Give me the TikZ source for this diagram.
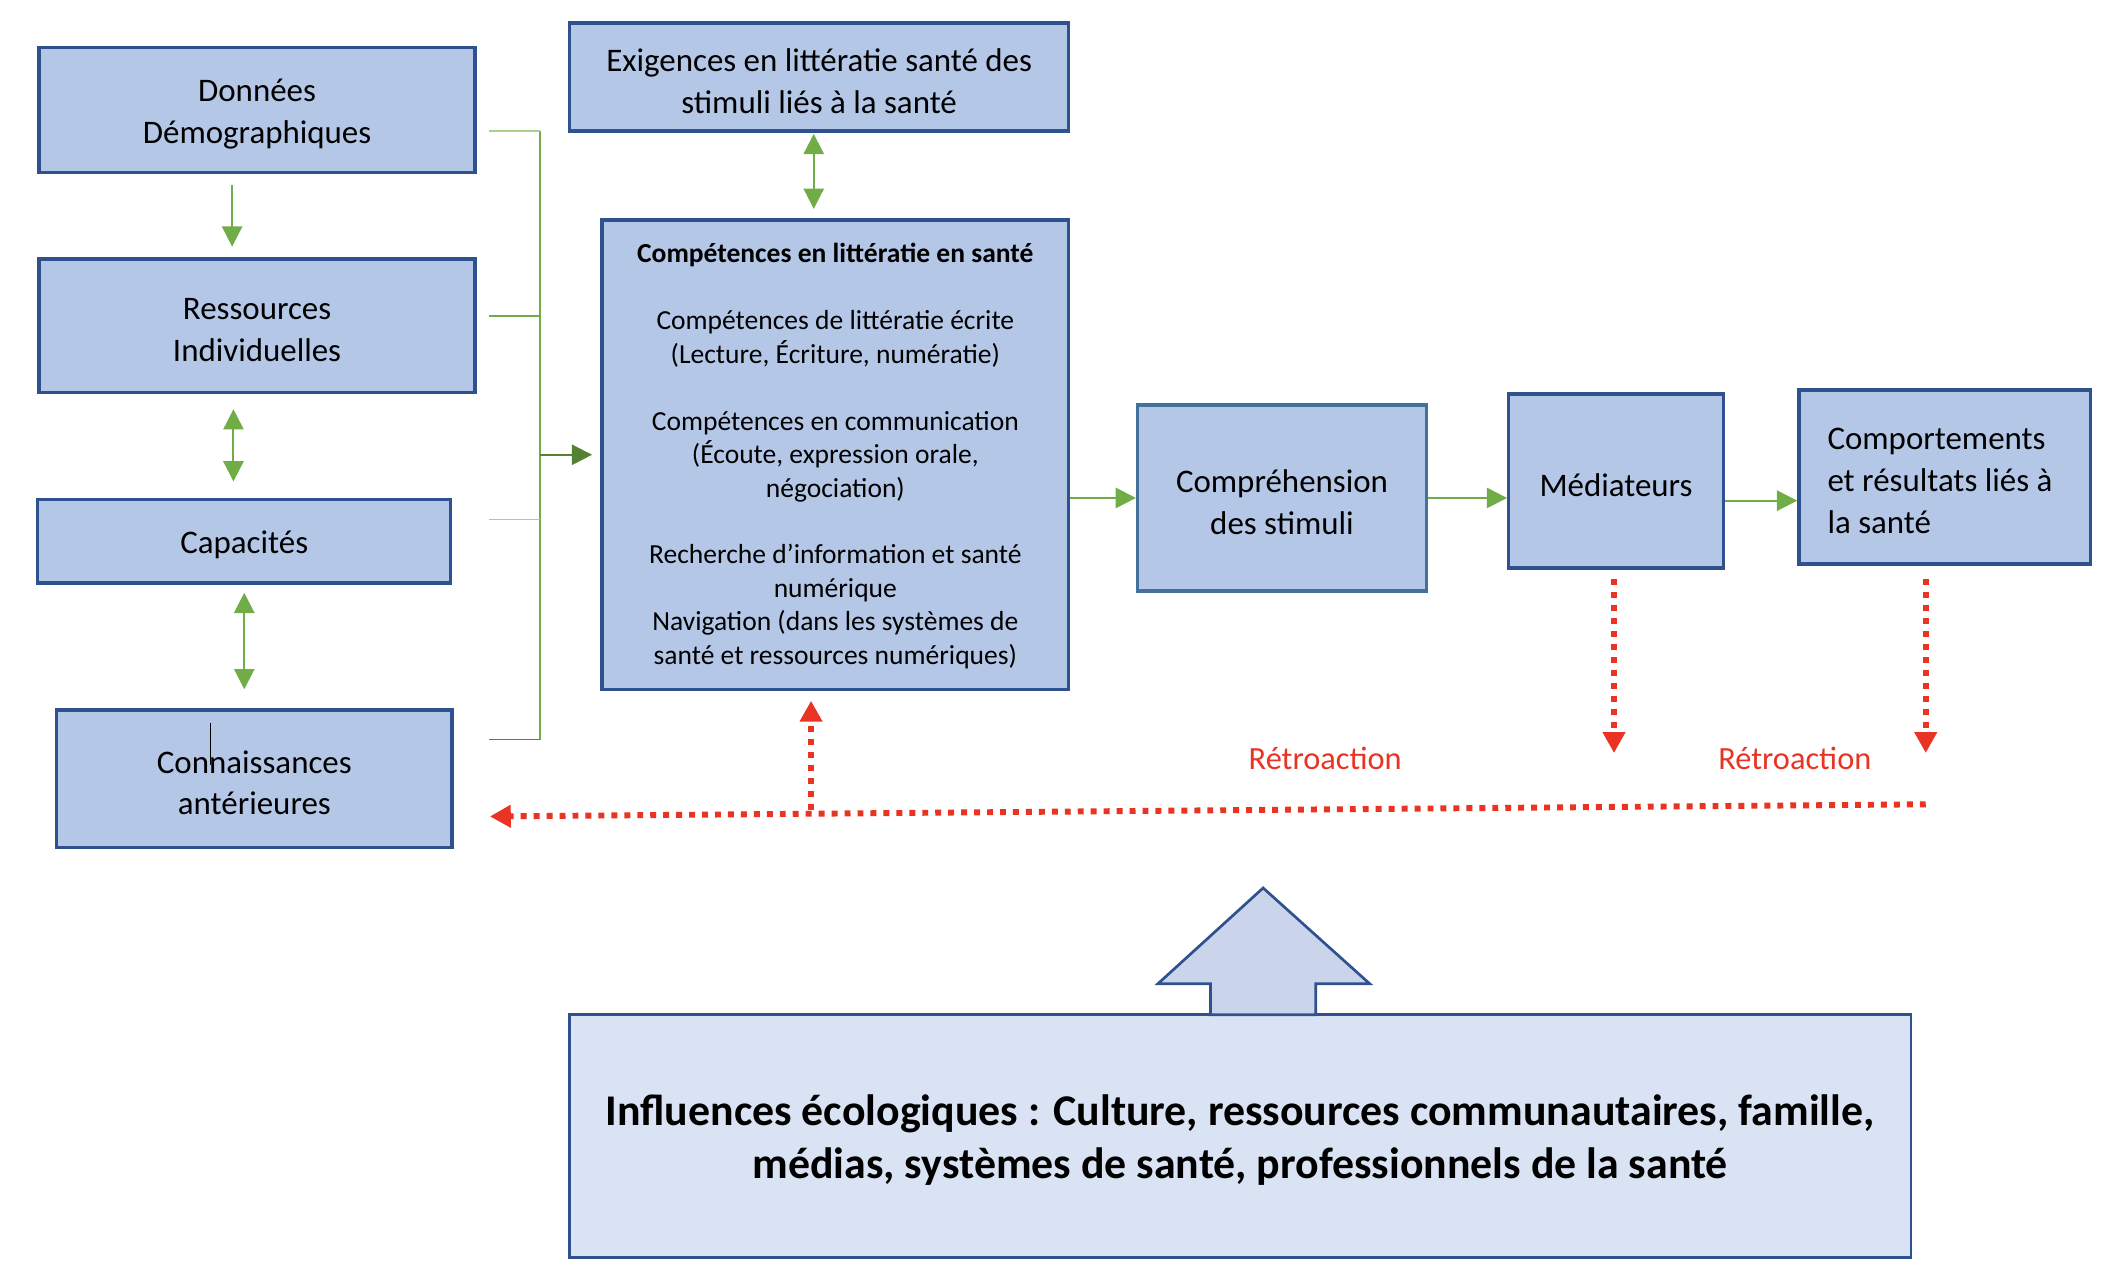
\documentclass[tikz,border=0pt]{standalone}
\usepackage{fontspec}
\setmainfont{Carlito}
\usetikzlibrary{arrows.meta,calc}
\definecolor{boxfill}{HTML}{B4C7E7}
\definecolor{bordc}{HTML}{2F528F}
\definecolor{bordb}{HTML}{41719C}
\definecolor{inflfill}{HTML}{DAE3F3}
\definecolor{bigarrfill}{HTML}{CAD5EC}
\definecolor{grn}{HTML}{70AD47}
\definecolor{lgrn}{HTML}{A9D18E}
\definecolor{dgrn}{HTML}{548235}
\definecolor{blu}{HTML}{4472C4}
\definecolor{rdc}{HTML}{E93323}
\newcommand\mainfs{\fontsize{24.4}{31}\selectfont}
\newcommand\compfs{\fontsize{20.4}{24.8}\selectfont}
\newcommand\inflfs{\fontsize{32.5}{39}\selectfont}
\begin{document}
\begin{tikzpicture}[x=1pt,y=-1pt,
  box/.style={draw=bordc, fill=boxfill, line width=2.5pt, inner sep=0pt},
  txt/.style={inner sep=0pt, align=center, font=\mainfs, yshift=-3pt},
  garrow/.style={draw=grn, line width=1.5pt, -{Triangle[width=15pt,length=15pt,fill=grn]}},
  gdarrow/.style={draw=grn, line width=1.5pt, {Triangle[width=15pt,length=15pt,fill=grn]}-{Triangle[width=15pt,length=15pt,fill=grn]}},
  rarrow/.style={draw=rdc, line width=4.4pt, dash pattern=on 4.4pt off 5.2pt, -{Triangle[width=16pt,length=15.5pt,fill=rdc]}},
  stub/.style={line width=1.3pt},
  rlabel/.style={text=rdc, font=\fontsize{24}{29}\selectfont, inner sep=0pt}
]
\useasboundingbox (0,0) rectangle (1568,947);

% left column
\node[box, minimum width=323, minimum height=93] (don) at (190.5,81.5) {};
\node[txt] (tdon) at (don) {Données\\Démographiques};
\node[box, minimum width=323, minimum height=99] (res) at (190.5,241.5) {};
\node[txt] (tres) at (res) {Ressources\\Individuelles};
\node[box, minimum width=306, minimum height=62] (cap) at (181,401) {};
\node[txt] (tcap) at (cap) {Capacités};
\node[box, minimum width=293, minimum height=102] (con) at (188.5,577) {};
\node[txt] (tcon) at (con) {Connaissances\\antérieures};
\draw[black, line width=0.9pt] (156,536) -- (156,567);

% center column
\node[box, minimum width=370, minimum height=80] (exi) at (607,57) {};
\node[txt] (texi) at (exi) {Exigences en littératie santé des\\stimuli liés à la santé};
\node[box, minimum width=346, minimum height=348] (comp) at (619,337) {};
\node[txt, font=\compfs] (tcomp) at (619,335)
 {\textbf{Compétences en littératie en santé}\\[24.8pt]
  Compétences de littératie écrite\\
  (Lecture, Écriture, numératie)\\[24.8pt]
  Compétences en communication\\
  (Écoute, expression orale,\\
  négociation)\\[24.8pt]
  Recherche d’information et santé\\
  numérique\\
  Navigation (dans les systèmes de\\
  santé et ressources numériques)};

% right chain
\node[box, draw=bordb, minimum width=214, minimum height=138] (cmpr) at (950,369) {};
\node[txt] (tcmpr) at (cmpr) {Compréhension\\des stimuli};
\node[box, minimum width=159, minimum height=129] (med) at (1197.5,356.5) {};
\node[txt] (tmed) at (med) {Médiateurs};
\node[box, minimum width=216, minimum height=129] (cpt) at (1441,353.5) {};
\node[txt, align=left, anchor=west] (tcpt) at (1354,353.5) {Comportements\\et résultats liés à\\la santé};

% influences
\node[box, fill=inflfill, line width=2pt, minimum width=994, minimum height=180] (inf) at (919,842) {};
\node[txt, font=\inflfs\bfseries] (tinf) at (inf)
 {Influences écologiques : Culture, ressources communautaires, famille,\\médias, systèmes de santé, professionnels de la santé};
\draw[draw=bordc, fill=bigarrfill, line width=2pt, line join=miter]
  (936,658) -- (1015,729) -- (975,729) -- (975,752) -- (897,752) -- (897,729) -- (858,729) -- cycle;

% helper coordinates
\coordinate (xa) at (172,0);
\coordinate (xb) at (173,0);
\coordinate (xc) at (181,0);
\coordinate (xd) at (603,0);
\coordinate (ya) at (0,371);
\coordinate (bt) at (400,97);
\coordinate (bb) at (400,548);
\coordinate (bm) at (400,337);

% green arrows left column
\draw[garrow, shorten <=8pt, shorten >=8pt] (don.south -| xa) -- (res.north -| xa);
\draw[gdarrow, shorten <=11pt, shorten >=12pt] (res.south -| xb) -- (cap.north -| xb);
\draw[gdarrow, shorten <=6pt, shorten >=14pt] (cap.south -| xc) -- (con.north -| xc);
\draw[gdarrow, shorten <=1pt, shorten >=7pt] (exi.south -| xd) -- (comp.north -| xd);

% bracket
\draw[grn, stub] (bt) -- (bb);
\draw[lgrn, stub] (bt) -- ++(-38,0);
\draw[grn, stub] (400,234) -- ++(-38,0);
\draw[lgrn, stub] (400,385) -- ++(-38,0);
\draw[blu, stub] (bb) -- ++(-38,0);
\draw[draw=dgrn, line width=1.5pt, -{Triangle[width=15pt,length=15pt,fill=dgrn]}, shorten >=6pt] (bm) -- (bm -| comp.west);

% chain arrows
\draw[garrow] (comp.east |- cmpr.west) -- (cmpr.west);
\draw[garrow] (cmpr.east) -- (cmpr.east -| med.west);
\draw[garrow] (med.east |- ya) -- (cpt.west |- ya);

% feedback
\coordinate (f1) at (1196,558);
\coordinate (f2) at (1427,558);
\coordinate (hr) at (1427,596);
\coordinate (hl) at (363,605);
\coordinate (up) at (601,600);
\draw[rarrow, shorten <=7pt] (med.south -| f1) -- (f1);
\draw[rarrow, shorten <=10pt] (cpt.south -| f2) -- (f2);
\draw[rarrow] (hr) -- (hl);
\draw[rarrow, shorten >=7pt] (up) -- (comp.south -| up);
\node[rlabel] (r1) at (982,562) {Rétroaction};
\node[rlabel] (r2) at (1330,562) {Rétroaction};
\end{tikzpicture}
\end{document}
